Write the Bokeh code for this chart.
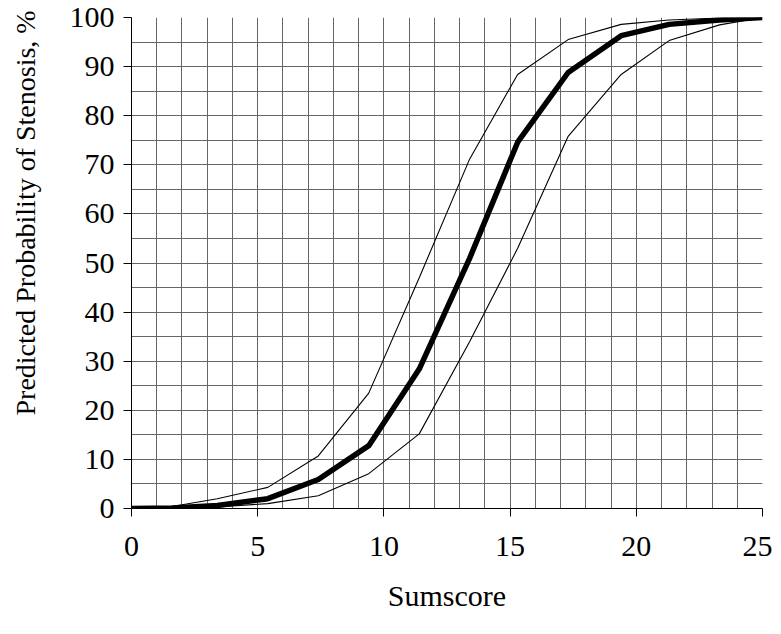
from bokeh.plotting import figure
from bokeh.models import SingleIntervalTicker, Title, Range1d
from bokeh.embed import file_html
from bokeh.resources import INLINE

# Data
sumscore = [0, 1.6, 3.4, 5.4, 7.4, 9.4, 11.4, 13.4, 15.3, 17.3, 19.4, 21.3, 23.3, 25]
predicted = [0, 0.1, 0.6, 2.0, 5.9, 12.8, 28.4, 51.0, 74.6, 88.8, 96.3, 98.6, 99.5, 100]
upper_ci = [0, 0.4, 2.0, 4.3, 10.7, 23.5, 47.0, 71.2, 88.4, 95.5, 98.6, 99.5, 99.9, 100]
lower_ci = [0, 0.05, 0.3, 1.0, 2.6, 7.1, 15.2, 34.0, 53.0, 75.8, 88.4, 95.3, 98.5, 100]

x_label = "Sumscore"
y_label = "Predicted Probability of Stenosis, %"

FONT = "Liberation Serif"
SHIFT = 22

p = figure(width=772 + SHIFT, height=626, output_backend="svg", toolbar_location=None,
           x_range=Range1d(0, 25), y_range=Range1d(0, 100),
           min_border_left=131 + SHIFT, min_border_top=17, min_border_right=10,
           min_border_bottom=118)
p.styles = {"margin-left": f"-{SHIFT}px"}
p.outline_line_color = None
p.background_fill_color = "white"
p.border_fill_color = "white"

# grid
p.xgrid.ticker = SingleIntervalTicker(interval=1)
p.ygrid.ticker = SingleIntervalTicker(interval=5)
for g in (p.xgrid, p.ygrid):
    g.grid_line_color = "#666666"
    g.grid_line_width = 1
    g.grid_line_alpha = 1.0

# axes
p.xaxis.ticker = SingleIntervalTicker(interval=5, num_minor_ticks=0)
p.yaxis.ticker = SingleIntervalTicker(interval=10, num_minor_ticks=0)
for ax in (p.xaxis, p.yaxis):
    ax.axis_line_color = "black"
    ax.major_tick_line_color = "black"
    ax.major_tick_out = 8
    ax.major_tick_in = 0
    ax.minor_tick_line_color = None
    ax.major_label_text_font = FONT
    ax.major_label_text_font_size = "30px"
    ax.major_label_text_color = "black"
p.xaxis.major_label_standoff = 20
p.yaxis.major_label_standoff = 9
p.xaxis.axis_label = x_label
p.xaxis.axis_label_text_font = FONT
p.xaxis.axis_label_text_font_size = "30px"
p.xaxis.axis_label_text_font_style = "normal"
p.xaxis.axis_label_text_color = "black"
p.xaxis.axis_label_standoff = 20

# curves
p.line(sumscore, upper_ci, line_color="black", line_width=1.1)
p.line(sumscore, lower_ci, line_color="black", line_width=1.1)
p.line(sumscore, predicted, line_color="black", line_width=5.5, line_join="round")

# rotated y label, placed higher like the reference
p.add_layout(Title(text=y_label, align="left", offset=93, standoff=52,
                   text_font=FONT, text_font_size="28px",
                   text_font_style="normal", text_color="black"), "left")

open("out.html", "w").write(file_html(p, INLINE))
